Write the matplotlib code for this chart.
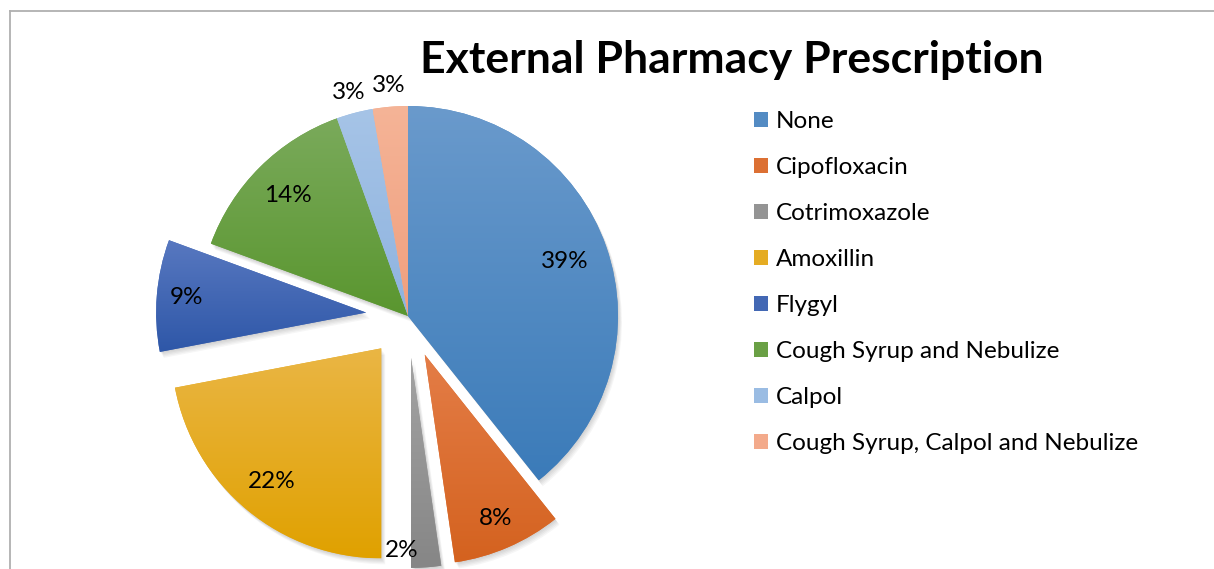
import numpy as np
import matplotlib
matplotlib.use('Agg')
import matplotlib.pyplot as plt
from matplotlib.colors import to_rgb
from matplotlib.patches import Wedge, Patch
import matplotlib.transforms as mtransforms

plt.rcParams['font.family'] = ['Lato', 'DejaVu Sans']

# ---- data ----
categories = ['None', 'Cipofloxacin', 'Cotrimoxazole', 'Amoxillin', 'Flygyl',
              'Cough Syrup and Nebulize', 'Calpol', 'Cough Syrup, Calpol and Nebulize']
values = [39.3, 8.4, 2.3, 22.0, 8.6, 13.9, 2.8, 2.7]
title = 'External Pharmacy Prescription'

# ---- style ----
explode = [0, 0.2, 0.2, 0.2, 0.2, 0, 0, 0]
label_dist = [0.79, 0.85, 0.92, 0.82, 0.86, 0.81, 1.1, 1.1]
label_rot = [0, 0, -7, 0, 0, 0, 0, 0]
top_colors = ['#6A9ACC', '#E47D47', '#A3A3A3', '#EAB645', '#5878C0', '#7AAA5B', '#A6C4E7', '#F5B497']
bot_colors = ['#3B7BB9', '#D4621F', '#868686', '#E0A100', '#2E57A8', '#5A962F', '#8EB3DF', '#F09F7E']
mid_colors = [tuple((np.array(to_rgb(a)) + np.array(to_rgb(b))) / 2) for a, b in zip(top_colors, bot_colors)]

W, H = 1214, 569
R = 210.0
cx, cy = 408.0, H - 316.0
FS = 17.5

fig = plt.figure(figsize=(W / 100, H / 100), dpi=100)
ax = fig.add_axes([0, 0, 1, 1])

wedges, texts, autotexts = ax.pie(
    values, explode=explode, startangle=90, counterclock=False,
    colors=mid_colors, autopct=lambda p: f'{p:.0f}%', pctdistance=0.84,
    textprops=dict(fontsize=FS, color='black'),
    wedgeprops=dict(linewidth=0))
ax.set_aspect('auto')
ax.axis('off')

# gradient fill + soft shadow for each wedge
for w, ct, cb in zip(wedges, top_colors, bot_colors):
    w.set_zorder(2)
    path = w.get_path()
    ext = path.get_extents()
    n = 256
    t = np.linspace(0, 1, n)[:, None]
    ctop, cbot = np.array(to_rgb(ct)), np.array(to_rgb(cb))
    grad = (ctop[None, :] * (1 - t) + cbot[None, :] * t)[:, None, :]
    grad = np.repeat(grad, 2, axis=1)
    im = ax.imshow(grad, extent=(ext.x0, ext.x1, ext.y0, ext.y1), origin='upper',
                   aspect='auto', zorder=3, interpolation='bilinear')
    im.set_clip_path(w)
    for k in range(1, 6):
        off = mtransforms.ScaledTranslation(k * 0.008, -k * 0.012, fig.dpi_scale_trans)
        sh = Wedge(w.center, w.r, w.theta1, w.theta2, facecolor='black', alpha=0.035,
                   linewidth=0, transform=ax.transData + off, zorder=1)
        ax.add_patch(sh)

ax.set_xlim(-cx / R, (W - cx) / R)
ax.set_ylim(-cy / R, (H - cy) / R)

# percent labels
for w, txt, d, rot in zip(wedges, autotexts, label_dist, label_rot):
    txt.set_zorder(5)
    ang = np.deg2rad((w.theta1 + w.theta2) / 2 + rot)
    x0, y0 = w.center
    txt.set_position((x0 + d * np.cos(ang), y0 + d * np.sin(ang)))

# title
fig.text(732 / W, 1 - 60 / H, title, ha='center', va='center',
         fontsize=32, fontweight='bold', color='black')

# legend
handles = [Patch(facecolor=c, edgecolor='none') for c in mid_colors]
leg = fig.legend(handles, categories, loc='upper left',
                 bbox_to_anchor=(754 / W, 1 - 111 / H), frameon=False,
                 fontsize=FS, handlelength=0.58, handleheight=0.58,
                 handletextpad=0.33, labelspacing=1.03, borderaxespad=0,
                 borderpad=0)

# chart border (partially visible)
fig.add_artist(plt.Line2D([10 / W, 10 / W], [0, 1 - 11 / H], color='#B0B0B0', lw=1.3,
                          transform=fig.transFigure))
fig.add_artist(plt.Line2D([10 / W, 1], [1 - 11 / H, 1 - 11 / H], color='#B0B0B0', lw=1.3,
                          transform=fig.transFigure))

fig.savefig('out.png', dpi=100)
